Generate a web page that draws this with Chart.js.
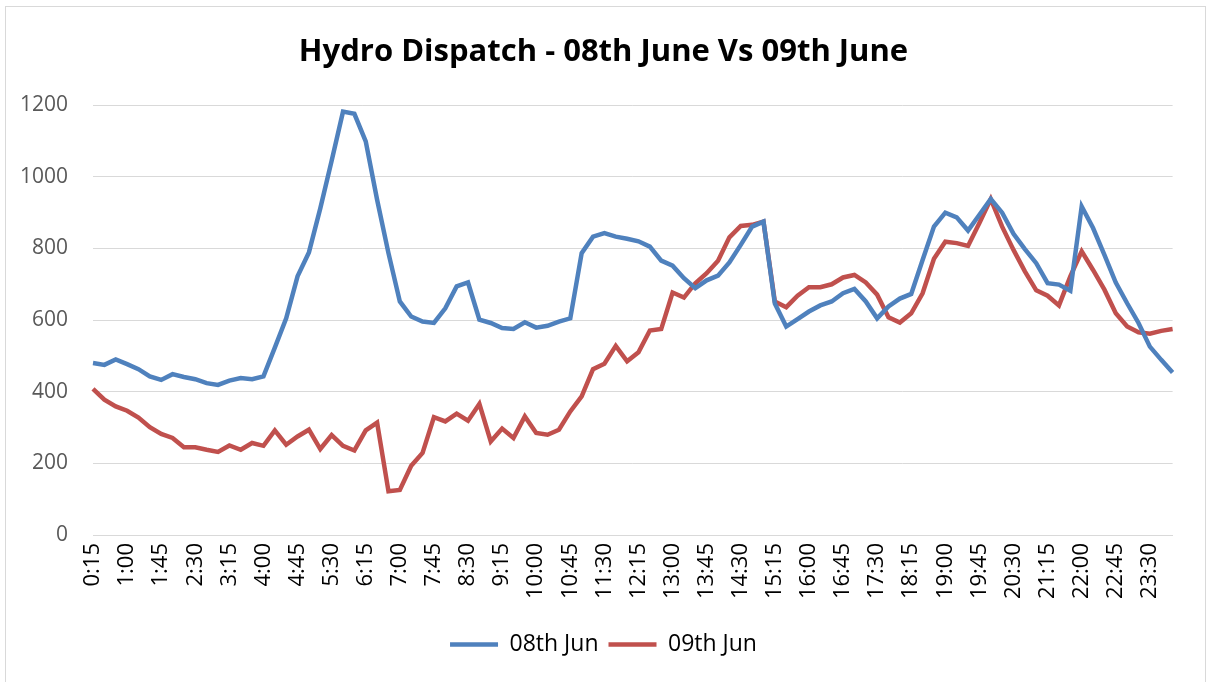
<!DOCTYPE html>
<html>
<head>
<meta charset="utf-8">
<script src="https://cdn.jsdelivr.net/npm/chart.js@4/dist/chart.umd.min.js"></script>
<style>
  html, body { margin: 0; padding: 0; background: #fff; }
  #wrap { width: 1207px; height: 682px; }
</style>
</head>
<body>
<div id="wrap"><canvas id="hydroChart" width="1207" height="682"></canvas></div>
<script>
// 15-minute blocks, 0:15 .. 24:00
const timeLabels = [
  "0:15","0:30","0:45","1:00","1:15","1:30","1:45","2:00","2:15","2:30","2:45","3:00",
  "3:15","3:30","3:45","4:00","4:15","4:30","4:45","5:00","5:15","5:30","5:45","6:00",
  "6:15","6:30","6:45","7:00","7:15","7:30","7:45","8:00","8:15","8:30","8:45","9:00",
  "9:15","9:30","9:45","10:00","10:15","10:30","10:45","11:00","11:15","11:30","11:45","12:00",
  "12:15","12:30","12:45","13:00","13:15","13:30","13:45","14:00","14:15","14:30","14:45","15:00",
  "15:15","15:30","15:45","16:00","16:15","16:30","16:45","17:00","17:15","17:30","17:45","18:00",
  "18:15","18:30","18:45","19:00","19:15","19:30","19:45","20:00","20:15","20:30","20:45","21:00",
  "21:15","21:30","21:45","22:00","22:15","22:30","22:45","23:00","23:15","23:30","23:45","0:00"
];

const june08 = [
  480, 475, 490, 477, 463, 443, 433, 449, 441, 435, 424, 419,
  431, 438, 435, 443, 523, 605, 722, 789, 912, 1045, 1182, 1176,
  1099, 936, 787, 652, 610, 596, 592, 633, 694, 705, 601, 592,
  578, 575, 594, 579, 584, 596, 605, 787, 833, 843, 833, 827,
  820, 805, 766, 752, 717, 689, 711, 724, 761, 810, 861, 875,
  646, 582, 603, 624, 641, 652, 675, 687, 652, 605, 638, 660,
  673, 768, 861, 900, 887, 850, 894, 938, 900, 841, 798, 759,
  703, 699, 682, 917, 857, 782, 705, 647, 592, 526, 489, 454
];

const june09 = [
  408, 378, 359, 347, 328, 301, 282, 271, 245, 245, 238, 232,
  250, 238, 257, 249, 292, 252, 275, 294, 240, 279, 249, 236,
  292, 314, 122, 126, 193, 229, 329, 317, 339, 319, 366, 261,
  297, 271, 331, 285, 280, 294, 345, 387, 463, 478, 528, 485,
  510, 571, 575, 677, 663, 703, 731, 766, 831, 863, 866, 875,
  652, 636, 668, 692, 692, 700, 719, 726, 705, 671, 608, 593,
  619, 675, 771, 819, 815, 807, 871, 938, 861, 796, 736, 683,
  668, 641, 722, 792, 740, 685, 619, 582, 566, 562, 570, 575
];

const FONT = "'Open Sans', 'Noto Sans', sans-serif";

// thin grey frame round the whole chart, like the Excel chart border
const frame = {
  id: "frame",
  beforeDraw(chart) {
    const ctx = chart.ctx;
    ctx.save();
    ctx.fillStyle = "#fff";
    ctx.fillRect(0, 0, chart.width, chart.height);
    ctx.strokeStyle = "#d9d9d9";
    ctx.lineWidth = 1;
    ctx.strokeRect(5.5, 6.5, 1200, 680);
    ctx.restore();
  }
};

new Chart(document.getElementById("hydroChart"), {
  type: "line",
  data: {
    labels: timeLabels,
    datasets: [
      {
        label: "08th Jun",
        data: june08,
        borderColor: "#4f81bd",
        backgroundColor: "#4f81bd",
        borderWidth: 4.5,
        pointRadius: 0,
        tension: 0,
        fill: false
      },
      {
        label: "09th Jun",
        data: june09,
        borderColor: "#c0504d",
        backgroundColor: "#c0504d",
        borderWidth: 4.5,
        pointRadius: 0,
        tension: 0,
        fill: false
      }
    ]
  },
  options: {
    responsive: false,
    animation: false,
    layout: { padding: { left: 0, right: 0, top: 0, bottom: 16 } },
    plugins: {
      title: {
        display: true,
        text: "Hydro Dispatch - 08th June Vs 09th June",
        color: "#000",
        font: { family: FONT, size: 31, weight: "bold", lineHeight: 1.2 },
        padding: { top: 34, bottom: 34 }
      },
      legend: {
        position: "bottom",
        labels: {
          usePointStyle: true,
          pointStyle: "line",
          pointStyleWidth: 48,
          color: "#000",
          font: { family: FONT, size: 23 },
          padding: 10
        }
      },
      tooltip: { enabled: false }
    },
    scales: {
      x: {
        grid: { display: false, drawTicks: false },
        border: { display: true, color: "#d9d9d9", width: 1 },
        ticks: {
          autoSkip: false,
          maxRotation: 90,
          minRotation: 90,
          padding: 8,
          color: "#000",
          font: { family: FONT, size: 22 },
          callback: function (value, index) {
            return index % 3 === 0 ? timeLabels[index] : "";
          }
        },
        afterFit(scale) { scale.height = 88; }
      },
      y: {
        min: 0,
        max: 1200,
        grid: { color: "#d9d9d9", lineWidth: 1, drawTicks: false },
        border: { display: false },
        ticks: {
          stepSize: 200,
          padding: 25,
          color: "#595959",
          font: { family: FONT, size: 21 },
          callback: function (value) { return String(value); }
        },
        afterFit(scale) { scale.width = 93; }
      },
      // empty right-hand strip so title and legend stay centred on the whole frame
      yRight: {
        position: "right",
        grid: { display: false, drawTicks: false },
        border: { display: false },
        ticks: { display: false },
        afterFit(scale) { scale.width = 29; }
      }
    }
  },
  plugins: [frame]
});
</script>
</body>
</html>
